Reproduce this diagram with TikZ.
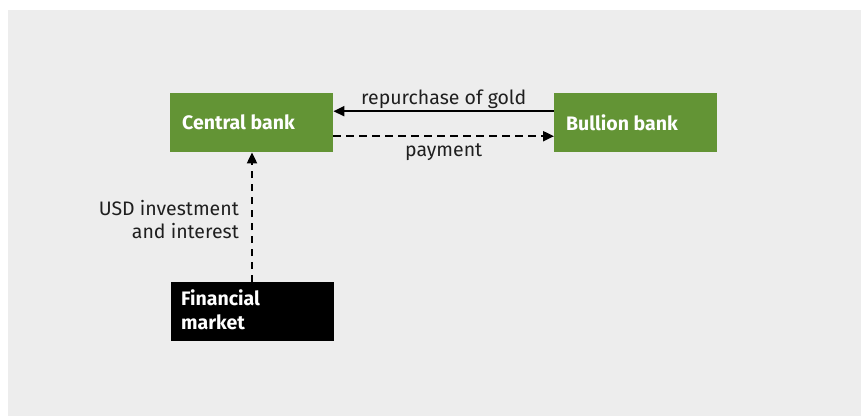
\documentclass[tikz,border=0pt]{standalone}
\usepackage{fontspec}
\setmainfont{Fira Sans}
\usetikzlibrary{arrows.meta}
\definecolor{bggray}{HTML}{EDEDED}
\definecolor{bankgreen}{HTML}{639435}
\begin{document}
\begin{tikzpicture}[x=1pt,y=-1pt,
  box/.style={minimum width=163pt,minimum height=59pt,inner sep=0pt,anchor=north west},
  boxtext/.style={anchor=west,text=white,font=\fontsize{19.5}{24}\selectfont\bfseries,align=left,inner sep=0pt},
  lbl/.style={font=\fontsize{19.5}{23}\selectfont,text=black!88},
  conn/.style={line width=2pt,-{Triangle[length=11pt,width=10pt]}},
  dconn/.style={conn,dash pattern=on 7.5pt off 5.5pt}]
\useasboundingbox (0,0) rectangle (861,416);
\fill[bggray] (8,10) rectangle (861,416);
\node[box,fill=bankgreen] (cb) at (170,93) {};
\node[box,fill=bankgreen] (bb) at (554,93) {};
\node[box,fill=black] (fm) at (171,282) {};
\node[boxtext] (cbt) at ([xshift=12pt]cb.west) {Central bank};
\node[boxtext] (bbt) at ([xshift=12pt]bb.west) {Bullion bank};
\node[boxtext] (fmt) at ([xshift=10pt,yshift=1.5pt]fm.west) {Financial\\market};
\coordinate (bbA) at ([yshift=11.5pt]bb.west);
\coordinate (cbA) at ([yshift=11.5pt]cb.east);
\coordinate (cbB) at ([yshift=-13.5pt]cb.east);
\coordinate (bbB) at ([yshift=-13.5pt]bb.west);
\draw[conn] (bbA) -- node[lbl,above=-2pt] (l1) {repurchase of gold} (cbA);
\draw[dconn] (cbB) -- node[lbl,below=3pt] (l2) {payment} (bbB);
\coordinate (fmT) at ([xshift=81pt]fm.north west);
\coordinate (cbS) at (fmT |- cb.south);
\draw[dconn] (fmT) -- (cbS);
\node[lbl,align=right,anchor=east,inner sep=0pt] (l3) at (239,220) {USD investment\\and interest};
\end{tikzpicture}
\end{document}
